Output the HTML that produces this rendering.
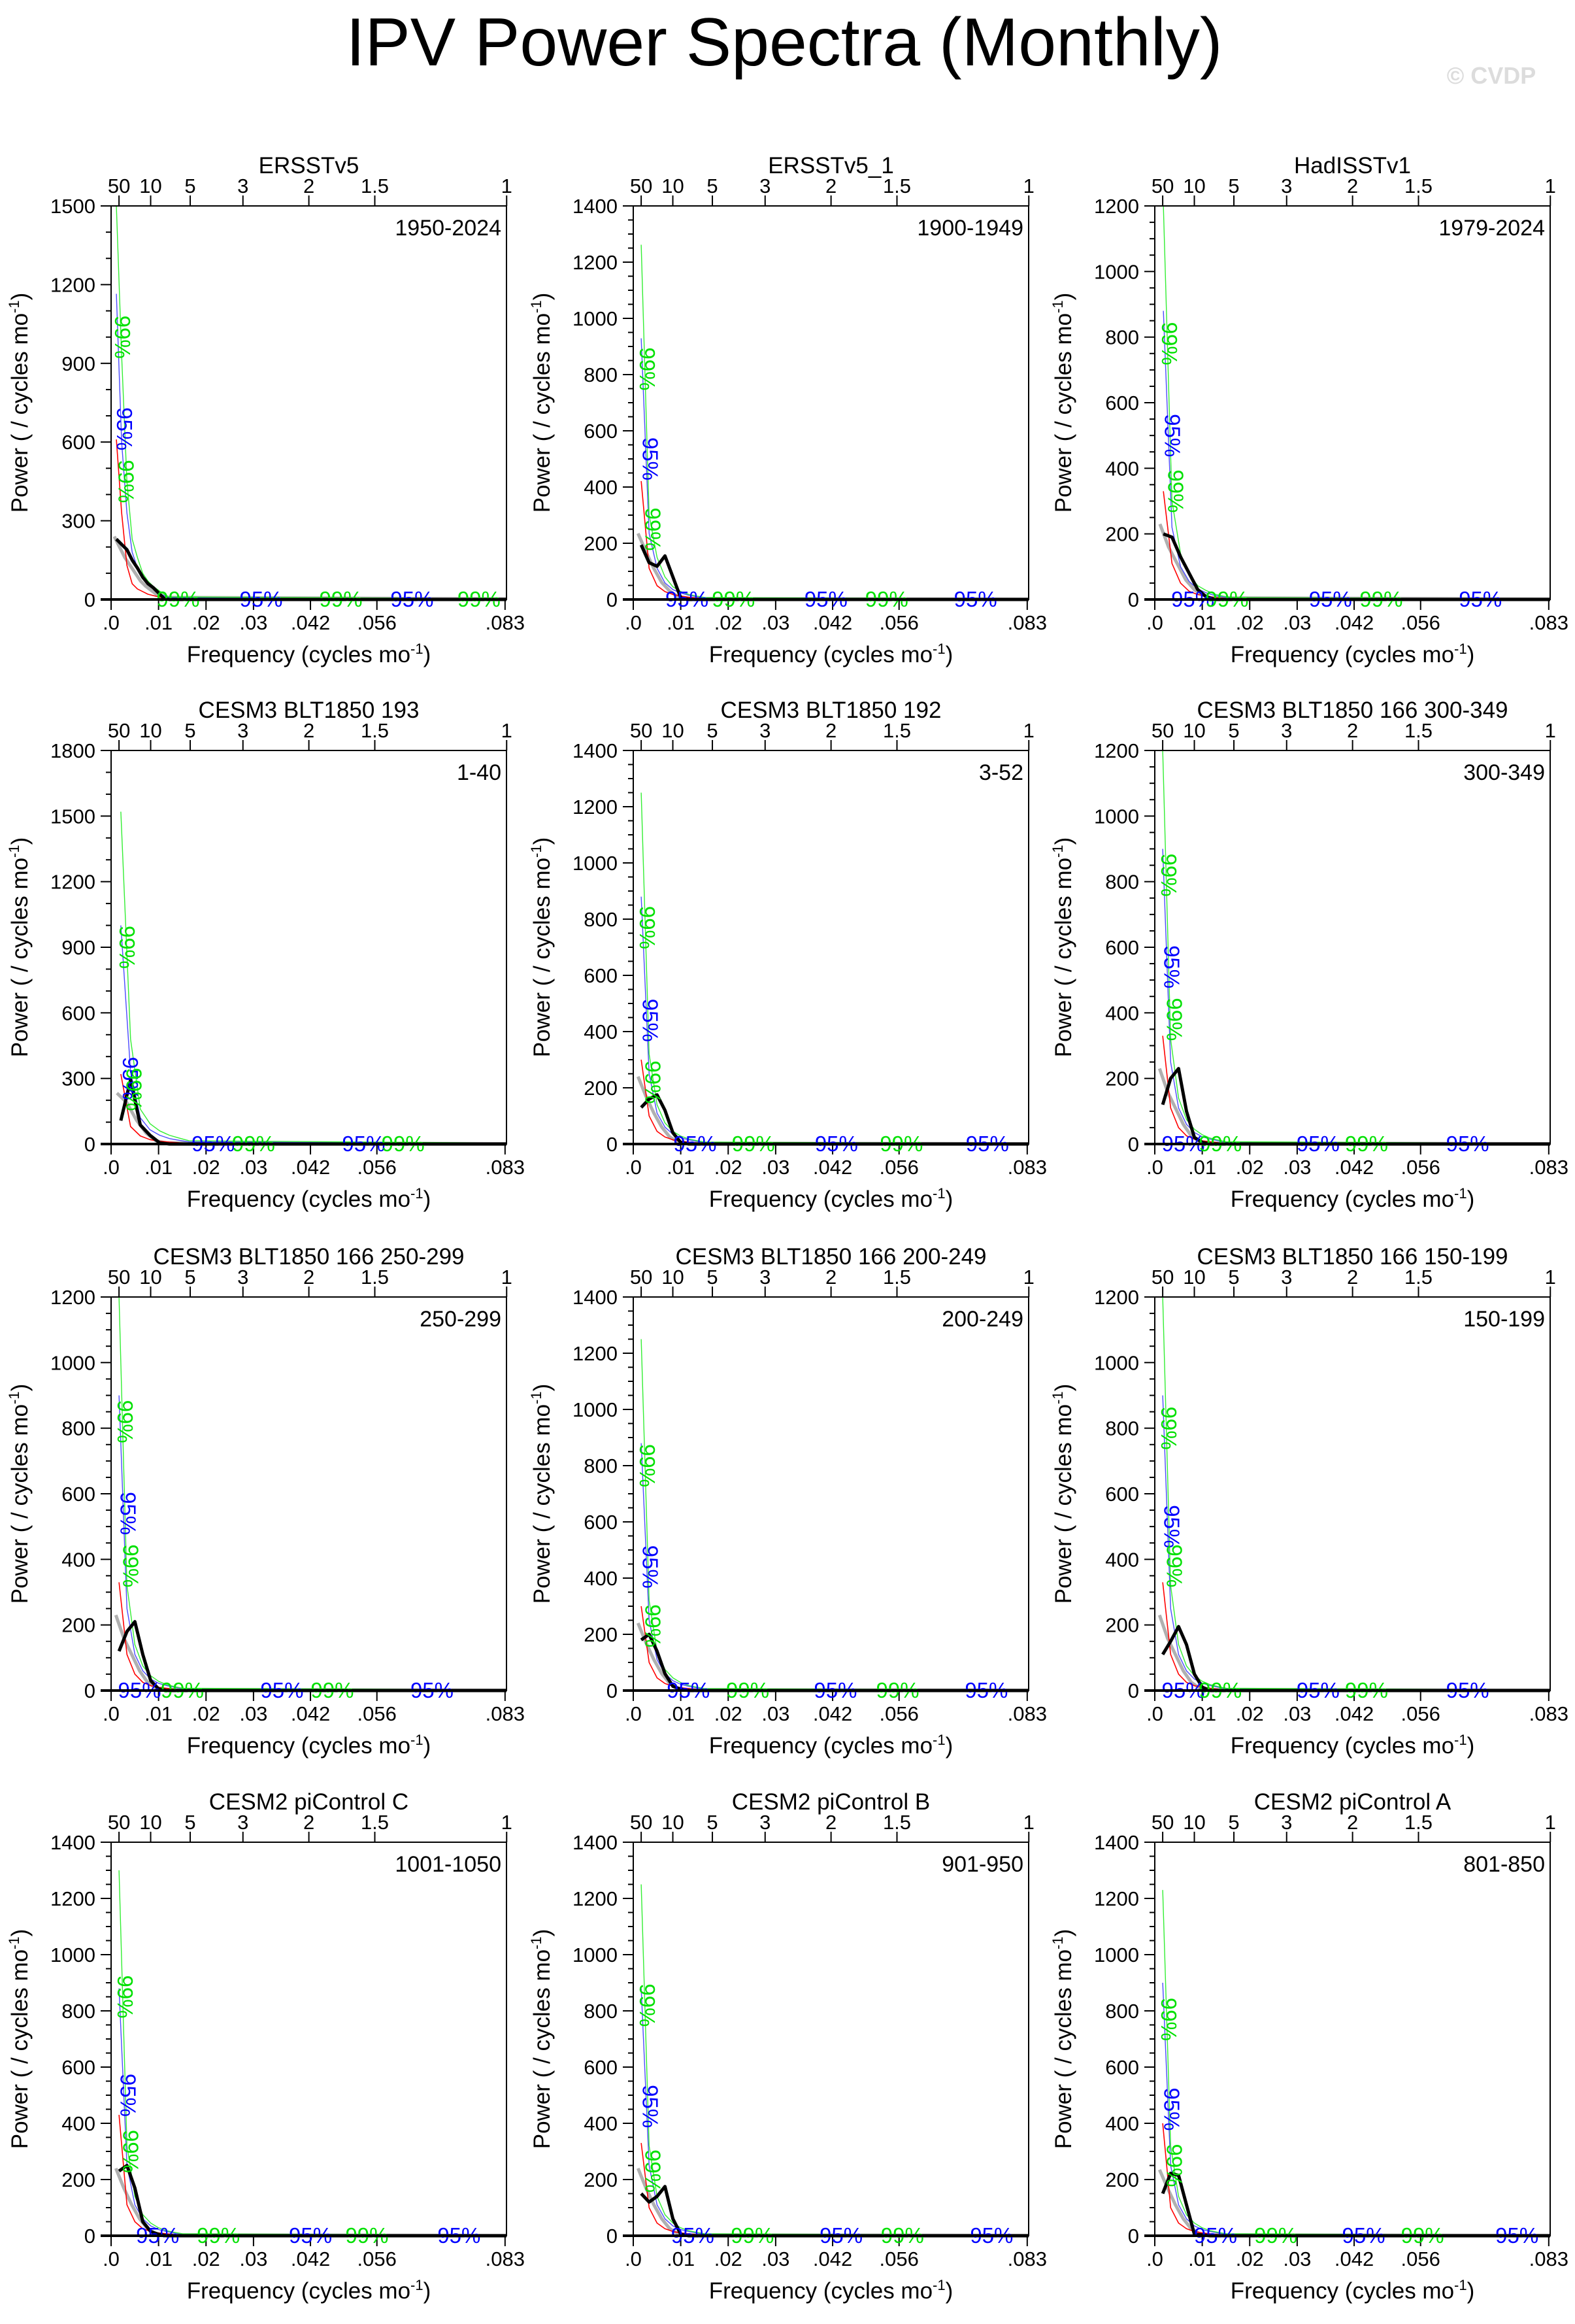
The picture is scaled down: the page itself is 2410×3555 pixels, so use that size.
<!DOCTYPE html>
<html><head><meta charset="utf-8"><style>
html,body{margin:0;padding:0;background:#fff;}
svg text{font-family:"Liberation Sans",sans-serif;}
</style></head><body>
<svg id="fig" xmlns="http://www.w3.org/2000/svg" width="2410" height="3550" viewBox="0 0 2410 3550">
<rect x="0" y="0" width="2410" height="3550" fill="#fff"/>
<text x="1200" y="100" font-size="104" text-anchor="middle">IPV Power Spectra (Monthly)</text>
<text x="2282" y="128" font-size="36" font-weight="bold" fill="#dcdcdc" text-anchor="middle">© CVDP</text>
</svg>
<script>
// ---- data ----
const titles = ["ERSSTv5","ERSSTv5_1","HadISSTv1","CESM3 BLT1850 193","CESM3 BLT1850 192","CESM3 BLT1850 166 300-349","CESM3 BLT1850 166 250-299","CESM3 BLT1850 166 200-249","CESM3 BLT1850 166 150-199","CESM2 piControl C","CESM2 piControl B","CESM2 piControl A"];
const periods = ["1950-2024","1900-1949","1979-2024","1-40","3-52","300-349","250-299","200-249","150-199","1001-1050","901-950","801-850"];
const yMax = [1500,1400,1200,1800,1400,1200,1200,1400,1200,1400,1400,1400];
const yStep = [300,200,200,300,200,200,200,200,200,200,200,200];
const yMinor = [100,50,50,100,50,50,50,50,50,50,50,50];
const dfreq = [0.00111,0.00167,0.00181,0.00205,0.00167,0.00167,0.00167,0.00167,0.00167,0.00167,0.00167,0.00167];
const blackVals = [
 [230,210,190,150,120,85,60,45,25,5,0],
 [194,131,118,155,80,5,0],
 [200,190,130,80,30,8,0],
 [107,293,87,40,5,0],
 [130,160,175,120,40,5,0],
 [120,200,230,100,20,5,0],
 [120,180,210,110,30,5,0],
 [180,200,140,60,15,5,0],
 [110,150,195,140,50,10,0],
 [230,250,170,50,15,5,0],
 [150,120,140,175,60,5,0],
 [150,222,215,110,5,3,0]];
const redVals = [
 [610,330,130,60,40,30,20,15,10,6,3],
 [421,111,49,28,18,12,8,5,3],
 [330,110,50,25,15,10,6,4,3],
 [320,80,37,20,13,9,6,4],
 [300,100,45,25,15,10,7,4,3],
 [330,110,50,25,15,10,7,4,3],
 [330,110,50,25,15,10,7,4,3],
 [300,100,45,25,15,10,7,4,3],
 [330,110,50,25,15,10,7,4,3],
 [430,110,50,25,15,10,7,4,3],
 [330,100,45,25,15,10,7,4,3],
 [400,100,45,25,15,10,7,4,3]];
const blueVals = [
 [1165,600,330,180,120,80,55,40,25,15,8],
 [929,235,111,59,35,23,15,10,6],
 [880,220,100,55,32,20,12,8,5],
 [1000,330,120,65,40,25,17,10],
 [880,250,110,60,35,22,15,10,6],
 [900,250,110,60,35,22,15,10,6],
 [900,250,110,60,35,22,15,10,6],
 [880,250,110,60,35,22,15,10,6],
 [900,250,110,60,35,22,15,10,6],
 [880,250,110,60,35,22,15,10,6],
 [880,250,110,60,35,22,15,10,6],
 [900,250,110,60,35,22,15,10,6]];
const greenVals = [
 [1500,930,450,230,160,100,70,50,35,20,10],
 [1262,300,150,80,45,28,18,12,7],
 [1200,300,140,75,42,27,16,10,6],
 [1520,480,160,93,60,40,27,15],
 [1250,320,140,75,45,28,18,12,7],
 [1200,320,140,75,45,28,18,12,7],
 [1200,320,140,75,45,28,18,12,7],
 [1250,320,140,75,45,28,18,12,7],
 [1200,320,140,75,45,28,18,12,7],
 [1300,320,140,75,45,28,18,12,7],
 [1250,320,140,75,45,28,18,12,7],
 [1230,320,140,75,45,28,18,12,7]];
const grayVals = [
 [240,200,160,130,100,70,50,35,20,8],
 [235,170,110,60,30,10,3],
 [230,160,110,60,30,12,5],
 [233,190,110,50,15,5],
 [240,170,110,60,25,8,3],
 [230,160,110,60,25,8,3],
 [230,160,110,60,25,8,3],
 [240,170,110,60,25,8,3],
 [230,160,110,60,25,8,3],
 [240,170,110,60,25,8,3],
 [240,170,110,60,25,8,3],
 [235,170,110,60,25,8,3]];
const rotLabelVals = [[1000,650,450],[820,500,250],[780,500,330],[900,300,250],[770,440,220],[820,540,380],[820,540,380],[800,440,230],[800,500,380],[850,500,300],[820,460,230],[770,450,250]];
const hLabelFreqs = [
 [0.0141,0.0316,0.0484,0.0634,0.0775],
 [0.0113,0.0211,0.0406,0.0534,0.0721],
 [0.0080,0.0152,0.0370,0.0477,0.0686],
 [0.0215,0.0300,0.0532,0.0615],
 [0.0130,0.0253,0.0428,0.0565,0.0746],
 [0.0060,0.0138,0.0344,0.0446,0.0659],
 [0.0060,0.0150,0.0360,0.0466,0.0676],
 [0.0116,0.0241,0.0426,0.0557,0.0744],
 [0.0060,0.0138,0.0344,0.0446,0.0659],
 [0.0098,0.0226,0.0420,0.0539,0.0733],
 [0.0125,0.0251,0.0438,0.0567,0.0755],
 [0.0128,0.0255,0.0440,0.0564,0.0763]];
const hLabelFirst = ["99%","95%","95%","95%","95%","95%","95%","95%","95%","95%","95%","95%"];
const xTickVals = [0,0.01,0.02,0.03,0.042,0.056,0.083];
const xTickLabels = [".0",".01",".02",".03",".042",".056",".083"];
const periodTicks = [50,10,5,3,2,1.5,1];

// ---- layout ----
const colX = [170,969,1767], rowY = [315,1148,1984,2818];
const PW = 605, PH = 602, XMAX = 0.0833;
const NS = "http://www.w3.org/2000/svg";
const svg = document.getElementById("fig");
function mk(tag, attrs, parent){const e=document.createElementNS(NS,tag);for(const k in attrs)e.setAttribute(k,attrs[k]);(parent||svg).appendChild(e);return e;}

for(let p=0;p<12;p++){
  const L=colX[p%3], T=rowY[Math.floor(p/3)];
  const g=mk("g",{});
  
  
  const xs=f=>L+f/XMAX*PW;
  const ys=v=>T+PH-v/yMax[p]*PH;
  for(let v=0;v<=yMax[p]+0.1;v+=yMinor[p]){
    const major=Math.abs(v/yStep[p]-Math.round(v/yStep[p]))<1e-6;
    mk("line",{x1:L-(major?16:8),x2:L,y1:ys(v),y2:ys(v),stroke:"#000","stroke-width":2},g);
    if(major){const t=mk("text",{x:L-24,y:ys(v)+11,"font-size":31,"text-anchor":"end"},g);t.textContent=v;
      
      }
  }
  xTickVals.forEach((f,i)=>{
    mk("line",{x1:xs(f),x2:xs(f),y1:T+PH,y2:T+PH+16,stroke:"#000","stroke-width":2},g);
    const t=mk("text",{x:xs(f),y:T+PH+46,"font-size":31,"text-anchor":"middle"},g);t.textContent=xTickLabels[i];
    
    
  });
  periodTicks.forEach(pr=>{
    const f=1/(12*pr);
    mk("line",{x1:xs(f),x2:xs(f),y1:T-16,y2:T,stroke:"#000","stroke-width":2},g);
    const t=mk("text",{x:xs(f),y:T-20,"font-size":31,"text-anchor":"middle"},g);t.textContent=pr;
    
    
  });
  const ti=mk("text",{x:L+PW/2,y:T-50,"font-size":35,"text-anchor":"middle"},g);ti.textContent=titles[p];
  
  
  const pe=mk("text",{x:L+PW-8,y:T+45,"font-size":34,"text-anchor":"end"},g);pe.textContent=periods[p];
  
  
  const xt=mk("text",{x:L+PW/2,y:T+PH+96,"font-size":35,"text-anchor":"middle"},g);
  xt.innerHTML='Frequency (cycles mo<tspan dy="-13" font-size="22">-1</tspan><tspan dy="13">)</tspan>';
  
  
  const yt=mk("text",{x:0,y:0,"font-size":35,"text-anchor":"middle",transform:`translate(${L-128},${T+PH/2}) rotate(-90)`},g);
  yt.innerHTML='Power ( / cycles mo<tspan dy="-13" font-size="22">-1</tspan><tspan dy="13">)</tspan>';
  
  
  const line=(vals,off,col,w,name)=>{
    const pts=vals.map((v,i)=>xs((i+off)*dfreq[p])+","+ys(v));
    pts.push(xs(XMAX)+","+ys(vals[vals.length-1]*0.3));
    const e=mk("polyline",{points:pts.join(" "),fill:"none",stroke:col,"stroke-width":w,"stroke-linejoin":"round"},g);
    
    
  };
  line(grayVals[p],0.6,"#b0b0b0",5,"gray-lower-bound");
  line(redVals[p],1,"#ff0000",1.6,"red-noise-line");
  line(blueVals[p],1,"#4a4aff",1.4,"confidence-95-line");
  line(greenVals[p],1,"#33ee33",1.4,"confidence-99-line");
  line(blackVals[p],1,"#000",5,"spectrum-line");
  const rl=rotLabelVals[p], rt=["99%","95%","99%"], rc=["#00e000","#0000ff","#00e000"];
  rl.forEach((v,i)=>{
    const x=xs(dfreq[p]*(1+i*0.35))-2, y=ys(v);
    const t=mk("text",{x:0,y:0,"font-size":33,fill:rc[i],"text-anchor":"middle",transform:`translate(${x},${y}) rotate(90)`},g);t.textContent=rt[i];
    
    
  });
  let cur=hLabelFirst[p];
  hLabelFreqs[p].forEach(f=>{
    const t=mk("text",{x:xs(f),y:T+PH+11,"font-size":33,fill:cur==="95%"?"#0000ff":"#00e000","text-anchor":"middle"},g);t.textContent=cur;
    
    
    cur=cur==="95%"?"99%":"95%";
  });
  const fr=mk("rect",{x:L,y:T,width:PW,height:PH,fill:"none",stroke:"#000","stroke-width":2},g);
  
  
  mk("line",{x1:L-16,x2:L,y1:T,y2:T,stroke:"#000","stroke-width":2},g);
  mk("line",{x1:L-16,x2:L+PW,y1:T+PH,y2:T+PH,stroke:"#000","stroke-width":4},g);
}
</script>
</body></html>
